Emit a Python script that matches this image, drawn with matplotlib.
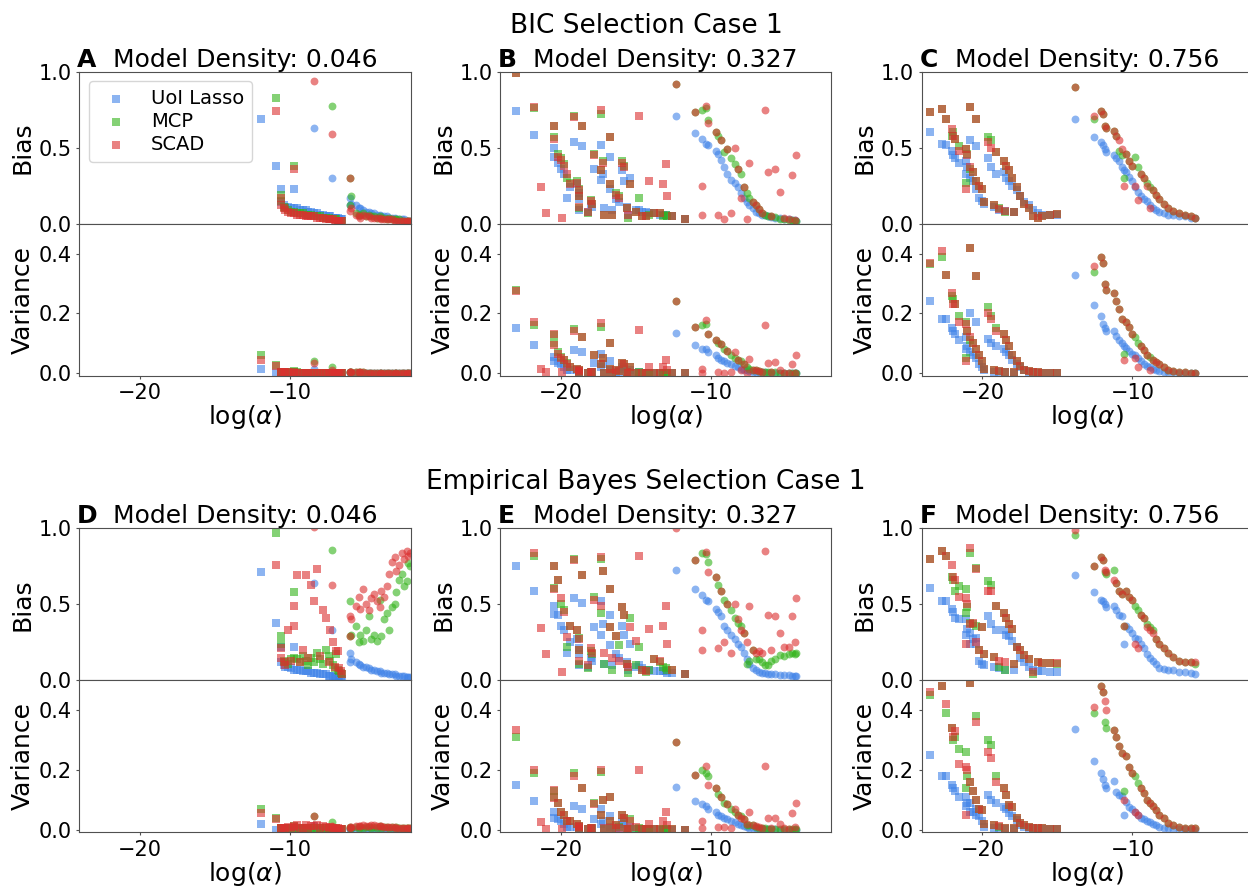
import matplotlib
matplotlib.use("Agg")
import matplotlib.pyplot as plt

nan = float("nan")

methods = ["UoI Lasso", "MCP", "SCAD"]
colors = ["#3f82e8", "#33b31a", "#db2f2f"]
densities = ["0.046", "0.327", "0.756"]
row_titles = ["BIC Selection Case 1", "Empirical Bayes Selection Case 1"]

# ---- density 0.046 (panels A, D) ----
col1_sq_x = [-11.9, -10.9, -10.6, -10.6, -10.4, -10.3, -10.1, -9.9, -9.7, -9.7,
             -9.5, -9.3, -9.1, -8.9, -8.8, -8.6, -8.4, -8.2, -8.0, -7.8,
             -7.6, -7.4, -7.3, -7.1, -7.0, -6.9, -6.8, -6.7, -6.6, -6.5]
col1_ci_x = [-8.4, -7.2, -6.0, -6.0, -5.9, -5.6, -5.4, -5.3, -5.1, -4.9,
             -4.7, -4.6, -4.4, -4.2, -4.0, -3.9, -3.7, -3.5, -3.4, -3.2,
             -3.0, -2.9, -2.7, -2.5, -2.4, -2.2, -2.1, -2.0]

A_uoi_sq_bias = [0.69, 0.38, 0.23, 0.14, 0.12, 0.11, 0.11, 0.10, 0.23, 0.10,
                 0.10, 0.09, 0.09, 0.09, 0.08, 0.08, 0.07, 0.07, 0.06, 0.06,
                 0.05, 0.05, 0.05, 0.04, 0.04, 0.04, 0.04, 0.03, 0.03, 0.03]
A_mcp_sq_bias = [1.10, 0.83, 0.19, 0.15, 0.11, 0.10, 0.09, 0.08, 0.38, 0.08,
                 0.07, 0.07, 0.07, 0.06, 0.06, 0.06, 0.05, 0.05, 0.05, 0.04,
                 0.04, 0.04, 0.03, 0.03, 0.03, 0.03, 0.02, 0.02, 0.02, 0.02]
A_scad_sq_bias = [1.05, 0.74, 0.17, 0.12, 0.10, 0.09, 0.08, 0.07, 0.36, 0.07,
                  0.06, 0.06, 0.06, 0.05, 0.05, 0.05, 0.05, 0.04, 0.04, 0.04,
                  0.03, 0.03, 0.03, 0.03, 0.02, 0.02, 0.02, 0.02, 0.02, 0.02]
A_uoi_sq_var = [0.015, 0.001, 0.003, 0.002, 0.002, 0.002, 0.002, 0.002, 0.003, 0.002,
                0.002, 0.002, 0.002, 0.002, 0.001, 0.001, 0.001, 0.001, 0.001, 0.001,
                0.001, 0.001, 0.001, 0.001, 0.001, 0.001, 0.001, 0.001, 0.001, 0.001]
A_mcp_sq_var = [0.060, 0.027, 0.006, 0.004, 0.003, 0.003, 0.003, 0.003, 0.007, 0.003,
                0.003, 0.002, 0.002, 0.002, 0.002, 0.002, 0.002, 0.002, 0.002, 0.002,
                0.001, 0.001, 0.001, 0.001, 0.001, 0.001, 0.001, 0.001, 0.001, 0.001]
A_scad_sq_var = [0.045, 0.025, 0.005, 0.004, 0.003, 0.003, 0.003, 0.002, 0.006, 0.002,
                 0.002, 0.002, 0.002, 0.002, 0.002, 0.002, 0.002, 0.002, 0.002, 0.002,
                 0.001, 0.001, 0.001, 0.001, 0.001, 0.001, 0.001, 0.001, 0.001, 0.001]
A_uoi_ci_bias = [0.63, 0.30, 0.17, 0.12, 0.13, 0.12, 0.10, 0.10, 0.09, 0.08,
                 0.08, 0.07, 0.07, 0.06, 0.06, 0.05, 0.05, 0.05, 0.04, 0.04,
                 0.04, 0.03, 0.03, 0.03, 0.03, 0.02, 0.02, 0.02]
A_mcp_ci_bias = [1.10, 0.775, 0.30, 0.12, 0.18, 0.07, 0.06, 0.06, 0.07, 0.05,
                 0.06, 0.05, 0.05, 0.04, 0.05, 0.04, 0.04, 0.03, 0.04, 0.03,
                 0.03, 0.03, 0.03, 0.02, 0.02, 0.02, 0.02, 0.02]
A_scad_ci_bias = [0.94, 0.59, 0.30, 0.085, 0.10, 0.06, 0.05, 0.04, 0.06, 0.05,
                  0.05, 0.04, 0.04, 0.04, 0.04, 0.03, 0.03, 0.03, 0.03, 0.03,
                  0.02, 0.02, 0.02, 0.02, 0.02, 0.02, 0.02, 0.02]
A_uoi_ci_var = [0.015, 0.004, 0.003, 0.002, 0.002, 0.002, 0.002, 0.002, 0.002, 0.002,
                0.001, 0.001, 0.001, 0.001, 0.001, 0.001, 0.001, 0.001, 0.001, 0.001,
                0.001, 0.001, 0.001, 0.001, 0.001, 0.001, 0.001, 0.001]
A_mcp_ci_var = [0.040, 0.022, 0.006, 0.004, 0.004, 0.003, 0.003, 0.003, 0.003, 0.002,
                0.002, 0.002, 0.002, 0.002, 0.002, 0.002, 0.002, 0.002, 0.001, 0.001,
                0.001, 0.001, 0.001, 0.001, 0.001, 0.001, 0.001, 0.001]
A_scad_ci_var = [0.035, 0.010, 0.006, 0.004, 0.004, 0.003, 0.003, 0.003, 0.003, 0.002,
                 0.002, 0.002, 0.002, 0.002, 0.002, 0.002, 0.002, 0.002, 0.001, 0.001,
                 0.001, 0.001, 0.001, 0.001, 0.001, 0.001, 0.001, 0.001]

D_uoi_sq_bias = [0.71, 0.38, 0.22, 0.12, 0.10, 0.09, 0.09, 0.08, 0.22, 0.07,
                 0.07, 0.07, 0.06, 0.06, 0.06, 0.05, 0.05, 0.05, 0.04, 0.04,
                 0.04, 0.03, 0.03, 0.03, 0.02, 0.02, 0.02, 0.02, 0.01, 0.01]
D_mcp_sq_bias = [1.10, 0.97, 0.29, 0.24, 0.13, 0.12, 0.11, 0.14, 0.58, 0.15,
                 0.14, 0.12, 0.16, 0.13, 0.10, 0.15, 0.12, 0.18, 0.14, 0.11,
                 0.20, 0.16, 0.13, 0.10, 0.08, 0.17, 0.07, 0.06, 0.05, 0.04]
D_scad_sq_bias = [1.05, 0.76, 0.21, 0.15, 0.12, 0.10, 0.33, 0.13, 0.36, 0.49,
                  0.69, 0.12, 0.20, 0.69, 0.15, 0.63, 0.52, 0.73, 0.16, 0.46,
                  0.41, 0.12, 0.33, 0.25, 0.09, 0.19, 0.19, 0.08, 0.06, 0.04]
D_uoi_sq_var = [0.020, 0.001, 0.003, 0.002, 0.002, 0.002, 0.002, 0.002, 0.003, 0.002,
                0.002, 0.002, 0.002, 0.002, 0.001, 0.001, 0.001, 0.001, 0.001, 0.001,
                0.001, 0.001, 0.001, 0.001, 0.001, 0.001, 0.001, 0.001, 0.001, 0.001]
D_mcp_sq_var = [0.070, 0.040, 0.008, 0.007, 0.006, 0.006, 0.006, 0.006, 0.012, 0.006,
                0.006, 0.005, 0.006, 0.005, 0.005, 0.006, 0.005, 0.006, 0.005, 0.005,
                0.006, 0.005, 0.005, 0.004, 0.004, 0.005, 0.004, 0.004, 0.003, 0.003]
D_scad_sq_var = [0.056, 0.035, 0.007, 0.006, 0.006, 0.005, 0.010, 0.006, 0.010, 0.012,
                 0.015, 0.005, 0.008, 0.015, 0.006, 0.014, 0.012, 0.016, 0.006, 0.012,
                 0.011, 0.005, 0.010, 0.008, 0.004, 0.007, 0.007, 0.004, 0.003, 0.003]
D_uoi_ci_bias = [0.64, 0.33, 0.18, 0.12, 0.14, 0.12, 0.11, 0.10, 0.09, 0.09,
                 0.08, 0.07, 0.07, 0.06, 0.06, 0.05, 0.05, 0.05, 0.04, 0.04,
                 0.04, 0.03, 0.03, 0.03, 0.03, 0.02, 0.02, 0.02]
D_mcp_ci_bias = [1.10, 0.86, 0.52, 0.29, 0.30, 0.36, 0.25, 0.30, 0.26, 0.33,
                 0.42, 0.27, 0.30, 0.26, 0.53, 0.29, 0.40, 0.44, 0.33, 0.48,
                 0.50, 0.58, 0.66, 0.70, 0.62, 0.65, 0.77, 0.75]
D_scad_ci_bias = [1.01, 0.63, 0.42, 0.29, 0.40, 0.49, 0.55, 0.47, 0.60, 0.50,
                  0.46, 0.54, 0.57, 0.52, 0.48, 0.59, 0.55, 0.62, 0.70, 0.78,
                  0.81, 0.72, 0.76, 0.84, 0.80, 0.85, 0.82, 0.84]
D_uoi_ci_var = [0.015, 0.004, 0.003, 0.003, 0.002, 0.002, 0.002, 0.002, 0.002, 0.002,
                0.001, 0.001, 0.001, 0.001, 0.001, 0.001, 0.001, 0.001, 0.001, 0.001,
                0.001, 0.001, 0.001, 0.001, 0.001, 0.001, 0.001, 0.001]
D_mcp_ci_var = [0.045, 0.028, 0.010, 0.008, 0.008, 0.010, 0.008, 0.009, 0.008, 0.009,
                0.011, 0.008, 0.009, 0.008, 0.012, 0.008, 0.009, 0.010, 0.008, 0.009,
                0.008, 0.009, 0.008, 0.008, 0.007, 0.007, 0.007, 0.006]
D_scad_ci_var = [0.045, 0.012, 0.010, 0.008, 0.010, 0.012, 0.014, 0.013, 0.016, 0.014,
                 0.013, 0.015, 0.016, 0.014, 0.013, 0.012, 0.011, 0.010, 0.010, 0.010,
                 0.009, 0.008, 0.008, 0.008, 0.007, 0.007, 0.006, 0.006]

# ---- density 0.327 (panels B, E) ----
col2_sq_x = [-23.0, -21.8, -21.3, -21.0, -20.45, -20.45, -20.2, -20.0, -19.8, -19.9,
             -19.55, -19.4, -19.1, -18.9, -18.75, -18.6, -18.8, -18.75, -18.2, -18.0,
             -17.9, -17.8, -17.3, -17.3, -17.2, -17.1, -16.7, -16.7, -16.6, -16.3,
             -16.1, -15.9, -15.8, -15.4, -15.6, -15.5, -14.8, -15.0, -14.6, -14.3,
             -14.1, -13.8, -13.4, -13.2, -13.0, -12.9, -12.6, -11.7]
col2_ci_x = [-12.3, -11.04, -10.56, -10.3, -10.56, -10.2, -9.67, -9.5, -9.33, -9.1,
             -8.9, -8.67, -8.4, -8.2, -8.0, -7.8, -7.6, -7.45, -7.2, -7.0,
             -6.8, -6.6, -6.4, -6.2, -6.0, -5.7, -5.4, -5.1, -4.8, -4.55,
             -4.3, -4.4]

B_uoi_sq_bias = [0.74, 0.585, nan, nan, 0.50, 0.44, 0.40, 0.36, 0.33, nan,
                 0.17, 0.24, 0.535, 0.26, 0.20, 0.51, 0.16, 0.09, 0.08, 0.13,
                 0.11, 0.36, 0.515, 0.29, 0.33, 0.10, 0.44, 0.23, 0.09, 0.16,
                 0.14, 0.35, 0.28, 0.30, 0.11, 0.06, 0.09, 0.09, 0.08, 0.08,
                 0.07, 0.07, 0.06, 0.06, 0.06, 0.05, 0.05, 0.03]
B_mcp_sq_bias = [0.99, 0.76, nan, nan, 0.645, 0.57, 0.46, 0.43, 0.39, nan,
                 0.30, 0.27, 0.71, 0.28, 0.23, 0.64, 0.18, 0.10, 0.07, 0.155,
                 0.13, 0.46, 0.72, 0.35, 0.41, 0.06, 0.57, 0.26, 0.06, 0.20,
                 0.18, 0.41, 0.38, 0.26, 0.105, 0.04, 0.17, 0.08, 0.05, 0.05,
                 0.06, 0.07, 0.07, 0.05, 0.06, 0.05, 0.05, 0.03]
B_scad_sq_bias = [0.99, 0.77, 0.24, 0.07, 0.645, 0.56, 0.44, 0.42, 0.38, 0.04,
                  0.33, 0.26, 0.70, 0.27, 0.22, 0.64, 0.18, 0.11, 0.08, 0.15,
                  0.13, 0.45, 0.75, 0.35, 0.40, 0.06, 0.57, 0.26, 0.06, 0.19,
                  0.17, 0.40, 0.37, 0.26, 0.10, 0.06, 0.71, 0.08, 0.05, 0.05,
                  0.28, 0.07, 0.07, 0.26, 0.39, 0.18, 0.05, 0.03]
B_uoi_sq_var = [0.15, 0.093, nan, nan, 0.055, 0.04, 0.035, 0.03, 0.02, nan,
                0.01, 0.01, 0.077, 0.01, 0.005, 0.07, 0.004, 0.002, 0.002, 0.003,
                0.003, 0.034, 0.066, 0.02, 0.03, 0.002, 0.04, 0.01, 0.002, 0.005,
                0.004, 0.02, 0.015, 0.01, 0.003, 0.001, 0.003, 0.002, 0.002, 0.002,
                0.002, 0.002, 0.001, 0.001, 0.001, 0.001, 0.001, 0.001]
B_mcp_sq_var = [0.28, 0.16, nan, nan, 0.127, 0.10, 0.07, 0.055, 0.045, nan,
                0.035, 0.02, 0.149, 0.015, 0.01, 0.12, 0.008, 0.003, 0.002, 0.004,
                0.003, 0.062, 0.154, 0.03, 0.05, 0.002, 0.10, 0.015, 0.002, 0.01,
                0.008, 0.035, 0.03, 0.02, 0.003, 0.001, 0.005, 0.002, 0.001, 0.001,
                0.002, 0.002, 0.002, 0.001, 0.001, 0.001, 0.001, 0.001]
B_scad_sq_var = [0.275, 0.17, 0.016, 0.004, 0.13, 0.095, 0.065, 0.05, 0.045, 0.003,
                 0.03, 0.02, 0.14, 0.015, 0.01, 0.12, 0.008, 0.003, 0.002, 0.004,
                 0.003, 0.06, 0.168, 0.03, 0.05, 0.002, 0.10, 0.015, 0.002, 0.01,
                 0.008, 0.035, 0.03, 0.02, 0.003, 0.001, 0.145, 0.002, 0.001, 0.001,
                 0.02, 0.002, 0.002, 0.02, 0.045, 0.012, 0.001, 0.001]
B_uoi_ci_bias = [0.71, 0.595, 0.554, 0.525, nan, 0.52, 0.48, 0.46, 0.42, 0.37,
                 0.33, 0.29, 0.27, 0.24, 0.20, 0.17, 0.14, 0.12, 0.10, 0.08,
                 0.07, 0.06, 0.055, 0.05, 0.045, 0.04, 0.035, 0.03, 0.03, 0.025,
                 0.02, 0.025]
B_mcp_ci_bias = [0.92, 0.735, 0.746, 0.76, nan, 0.68, 0.60, 0.58, 0.55, 0.47,
                 0.49, 0.43, 0.39, 0.36, 0.33, 0.24, 0.20, 0.17, 0.14, 0.12,
                 0.095, 0.07, 0.06, 0.05, 0.05, 0.045, 0.03, 0.03, 0.025, 0.025,
                 0.02, 0.02]
B_scad_ci_bias = [0.92, 0.735, 0.25, 0.775, 0.057, 0.66, 0.60, 0.06, 0.55, 0.03,
                  0.49, 0.07, 0.50, 0.36, 0.17, 0.24, 0.03, 0.40, 0.14, 0.12,
                  0.095, 0.07, 0.745, 0.34, 0.05, 0.36, 0.21, 0.04, 0.03, 0.32,
                  0.45, 0.025]
B_uoi_ci_var = [0.136, 0.093, 0.082, 0.08, nan, 0.07, 0.06, 0.05, 0.045, 0.04,
                0.035, 0.03, 0.025, 0.02, 0.015, 0.012, 0.01, 0.008, 0.006, 0.005,
                0.004, 0.003, 0.003, 0.002, 0.002, 0.002, 0.001, 0.001, 0.001, 0.001,
                0.001, 0.001]
B_mcp_ci_var = [0.243, 0.154, 0.16, 0.165, nan, 0.13, 0.11, 0.10, 0.097, 0.08,
                0.075, 0.06, 0.05, 0.045, 0.04, 0.03, 0.02, 0.015, 0.012, 0.01,
                0.008, 0.006, 0.005, 0.004, 0.003, 0.003, 0.002, 0.002, 0.001, 0.001,
                0.001, 0.001]
B_scad_ci_var = [0.243, 0.154, 0.016, 0.177, 0.0, 0.13, 0.11, 0.005, 0.097, 0.002,
                 0.075, 0.003, 0.07, 0.045, 0.01, 0.03, 0.001, 0.049, 0.012, 0.01,
                 0.008, 0.006, 0.162, 0.034, 0.003, 0.038, 0.01, 0.002, 0.001, 0.032,
                 0.062, 0.001]

E_uoi_sq_bias = [0.75, 0.59, nan, nan, 0.49, 0.435, 0.43, 0.36, 0.33, nan,
                 0.18, 0.25, 0.54, 0.27, 0.21, 0.51, 0.17, 0.10, 0.09, 0.15,
                 0.13, 0.35, 0.52, 0.30, 0.37, 0.11, 0.43, 0.23, 0.10, 0.17,
                 0.15, 0.36, 0.30, 0.24, 0.12, 0.07, 0.10, 0.09, 0.08, 0.07,
                 0.07, 0.06, 0.06, 0.06, 0.06, 0.05, 0.05, 0.04]
E_mcp_sq_bias = [1.10, 0.82, nan, nan, 0.75, 0.61, 0.66, 0.50, 0.46, nan,
                 0.22, 0.36, 0.80, 0.33, 0.275, 0.69, 0.20, 0.11, 0.08, 0.19,
                 0.17, 0.545, 0.80, 0.44, 0.72, 0.11, 0.60, 0.35, 0.065, 0.29,
                 0.23, 0.48, 0.43, 0.41, 0.11, 0.045, 0.22, 0.10, 0.066, 0.055,
                 0.07, 0.14, 0.12, 0.09, 0.08, 0.07, 0.066, 0.04]
E_scad_sq_bias = [1.10, 0.835, 0.345, 0.17, 0.75, 0.60, 0.66, 0.54, 0.45, 0.055,
                  0.285, 0.36, 0.79, 0.33, 0.27, 0.69, 0.20, 0.13, 0.10, 0.21,
                  0.18, 0.53, 0.81, 0.49, 0.72, 0.18, 0.60, 0.35, 0.15, 0.29,
                  0.13, 0.48, 0.43, 0.35, 0.11, 0.09, 0.82, 0.26, 0.066, 0.06,
                  0.34, 0.14, 0.13, 0.36, 0.49, 0.24, 0.066, 0.04]
E_uoi_sq_var = [0.15, 0.095, nan, nan, 0.06, 0.04, 0.035, 0.03, 0.02, nan,
                0.01, 0.01, 0.08, 0.01, 0.006, 0.07, 0.004, 0.002, 0.002, 0.004,
                0.003, 0.035, 0.07, 0.02, 0.03, 0.003, 0.045, 0.01, 0.002, 0.006,
                0.005, 0.025, 0.02, 0.01, 0.003, 0.002, 0.003, 0.002, 0.002, 0.002,
                0.002, 0.002, 0.001, 0.001, 0.001, 0.001, 0.001, 0.001]
E_mcp_sq_var = [0.31, 0.19, nan, nan, 0.13, 0.11, 0.09, 0.06, 0.05, nan,
                0.03, 0.03, 0.19, 0.02, 0.012, 0.14, 0.01, 0.004, 0.003, 0.006,
                0.005, 0.09, 0.195, 0.05, 0.10, 0.004, 0.11, 0.03, 0.002, 0.015,
                0.01, 0.05, 0.04, 0.035, 0.004, 0.002, 0.006, 0.003, 0.002, 0.002,
                0.002, 0.004, 0.003, 0.002, 0.002, 0.002, 0.002, 0.001]
E_scad_sq_var = [0.335, 0.20, 0.028, 0.002, 0.135, 0.105, 0.09, 0.06, 0.05, 0.003,
                 0.03, 0.03, 0.18, 0.02, 0.012, 0.14, 0.01, 0.004, 0.003, 0.006,
                 0.005, 0.085, 0.20, 0.05, 0.10, 0.006, 0.11, 0.03, 0.005, 0.015,
                 0.006, 0.05, 0.04, 0.03, 0.004, 0.003, 0.20, 0.01, 0.002, 0.002,
                 0.02, 0.004, 0.003, 0.03, 0.06, 0.015, 0.002, 0.001]
E_uoi_ci_bias = [0.725, 0.60, 0.56, 0.53, nan, 0.52, 0.47, 0.45, 0.42, 0.36,
                 0.33, 0.30, 0.27, 0.24, 0.22, 0.18, 0.14, 0.11, 0.08, 0.07,
                 0.055, 0.05, 0.045, 0.044, 0.042, 0.04, 0.038, 0.035, 0.033, 0.03,
                 0.026, 0.028]
E_mcp_ci_bias = [1.10, 0.79, 0.835, 0.83, nan, 0.78, 0.68, 0.63, 0.59, 0.53,
                 0.505, 0.46, 0.41, 0.38, 0.36, 0.31, 0.11, 0.13, 0.20, 0.14,
                 0.14, 0.12, 0.10, 0.10, 0.13, 0.14, 0.165, 0.16, 0.175, 0.18,
                 0.18, 0.17]
E_scad_ci_bias = [1.00, 0.79, 0.33, 0.845, 0.20, 0.71, 0.68, 0.21, 0.59, 0.25,
                  0.505, 0.18, 0.50, 0.40, 0.33, 0.31, 0.25, 0.49, 0.20, 0.18,
                  0.19, 0.18, 0.85, 0.43, 0.20, 0.42, 0.31, 0.22, 0.22, 0.42,
                  0.54, 0.25]
E_uoi_ci_var = [0.145, 0.098, 0.085, 0.08, nan, 0.07, 0.06, 0.05, 0.045, 0.04,
                0.035, 0.03, 0.025, 0.02, 0.015, 0.012, 0.01, 0.008, 0.006, 0.005,
                0.004, 0.003, 0.003, 0.002, 0.002, 0.002, 0.001, 0.001, 0.001, 0.001,
                0.001, 0.001]
E_mcp_ci_var = [0.293, 0.184, 0.20, 0.19, nan, 0.18, 0.14, 0.12, 0.11, 0.09,
                0.085, 0.07, 0.06, 0.05, 0.045, 0.035, 0.015, 0.015, 0.015, 0.01,
                0.008, 0.006, 0.005, 0.004, 0.004, 0.004, 0.003, 0.003, 0.002, 0.002,
                0.002, 0.002]
E_scad_ci_var = [0.293, 0.184, 0.03, 0.215, 0.005, 0.15, 0.14, 0.01, 0.11, 0.01,
                 0.085, 0.008, 0.07, 0.05, 0.04, 0.035, 0.02, 0.06, 0.015, 0.012,
                 0.01, 0.008, 0.215, 0.04, 0.006, 0.04, 0.02, 0.005, 0.004, 0.055,
                 0.09, 0.01]

# ---- density 0.756 (panels C, F) ----
col3_sq_x = [-23.5, -22.7, -22.45, -22.0, -21.95, -21.8, -21.55, -21.1, -21.0, -20.8,
             -20.45, -21.1, -20.8, -20.6, -20.4, -20.2, -20.0, -19.9, -19.65, -19.4,
             -19.2, -19.1, -18.9, -18.55, -18.4, -18.2, -18.0, -18.5, -17.9, -17.7,
             -17.5, -17.2, -16.9, -16.6, -16.3, -16.0, -15.5, -15.0]
col3_ci_x = [-13.8, -12.55, -12.07, -11.95, -11.8, -11.75, -11.2, -11.1, -10.9, -10.7,
             -10.55, -10.45, -10.2, -10.0, -9.8, -9.6, -9.4, -9.2, -9.0, -8.8,
             -8.6, -8.4, -8.2, -7.9, -7.6, -7.3, -6.9, -6.5, -6.1, -5.8]

C_uoi_sq_bias = [0.60, 0.525, 0.52, 0.48, 0.45, 0.43, 0.40, 0.41, 0.37, 0.55,
                 0.51, 0.33, 0.30, 0.28, 0.23, 0.17, 0.15, 0.13, 0.43, 0.37,
                 0.11, 0.33, 0.09, 0.34, 0.30, 0.28, 0.25, 0.085, 0.075, 0.22,
                 0.18, 0.14, 0.12, 0.09, 0.07, 0.06, 0.06, 0.06]
C_mcp_sq_bias = [0.735, 0.757, 0.69, 0.58, 0.60, 0.56, 0.51, 0.49, 0.46, 0.77,
                 0.69, 0.27, 0.36, 0.34, 0.28, 0.25, 0.23, 0.14, 0.57, 0.55,
                 0.12, 0.47, 0.10, 0.415, 0.38, 0.35, 0.30, 0.08, 0.075, 0.24,
                 0.18, 0.13, 0.10, 0.05, 0.04, 0.05, 0.06, 0.067]
C_scad_sq_bias = [0.735, 0.757, 0.69, 0.62, 0.58, 0.56, 0.48, 0.49, 0.45, 0.77,
                  0.69, 0.23, 0.37, 0.34, 0.28, 0.25, 0.23, 0.14, 0.54, 0.50,
                  0.12, 0.47, 0.095, 0.415, 0.38, 0.35, 0.30, 0.085, 0.075, 0.24,
                  0.18, 0.13, 0.10, 0.05, 0.04, 0.05, 0.06, 0.067]
C_uoi_sq_var = [0.243, 0.18, 0.18, 0.15, 0.14, 0.13, 0.11, 0.12, 0.09, 0.20,
                0.17, 0.08, 0.07, 0.06, 0.05, 0.03, 0.02, 0.01, 0.115, 0.10,
                0.005, 0.09, 0.004, 0.08, 0.07, 0.06, 0.045, 0.003, 0.002, 0.03,
                0.02, 0.01, 0.006, 0.004, 0.002, 0.002, 0.001, 0.001]
C_mcp_sq_var = [0.365, 0.39, 0.33, 0.26, 0.25, 0.23, 0.19, 0.17, 0.14, 0.42,
                0.325, 0.05, 0.11, 0.10, 0.08, 0.06, 0.04, 0.015, 0.22, 0.19,
                0.01, 0.15, 0.008, 0.13, 0.11, 0.09, 0.06, 0.005, 0.004, 0.04,
                0.025, 0.012, 0.008, 0.004, 0.003, 0.002, 0.002, 0.001]
C_scad_sq_var = [0.37, 0.41, 0.33, 0.27, 0.23, 0.23, 0.17, 0.165, 0.14, 0.42,
                 0.325, 0.04, 0.12, 0.10, 0.08, 0.06, 0.04, 0.015, 0.20, 0.18,
                 0.01, 0.14, 0.008, 0.13, 0.11, 0.09, 0.06, 0.005, 0.004, 0.04,
                 0.025, 0.012, 0.008, 0.004, 0.003, 0.002, 0.002, 0.001]
C_uoi_ci_bias = [0.69, 0.57, 0.535, 0.515, 0.49, 0.47, 0.45, 0.43, 0.41, 0.37,
                 0.35, 0.34, 0.31, 0.28, 0.24, 0.21, 0.18, 0.16, 0.15, 0.12,
                 0.10, 0.09, 0.08, 0.07, 0.06, 0.06, 0.05, 0.05, 0.04, 0.04]
C_mcp_ci_bias = [0.90, 0.69, 0.74, 0.72, 0.645, 0.63, 0.61, 0.58, 0.48, 0.45,
                 0.30, 0.46, 0.415, 0.38, 0.44, 0.37, 0.33, 0.30, 0.27, 0.24,
                 0.22, 0.19, 0.16, 0.13, 0.105, 0.085, 0.07, 0.06, 0.05, 0.04]
C_scad_ci_bias = [0.90, 0.71, 0.74, 0.72, 0.645, 0.63, 0.61, 0.58, 0.55, 0.49,
                  0.245, 0.46, 0.415, 0.38, 0.25, 0.155, 0.33, 0.30, 0.25, 0.105,
                  0.22, 0.19, 0.16, 0.13, 0.105, 0.085, 0.07, 0.06, 0.05, 0.04]
C_uoi_ci_var = [0.33, 0.227, 0.19, 0.165, 0.15, 0.14, 0.14, 0.125, 0.11, 0.10,
                0.09, 0.085, 0.075, 0.065, 0.06, 0.05, 0.04, 0.03, 0.025, 0.02,
                0.015, 0.01, 0.008, 0.005, 0.004, 0.003, 0.002, 0.002, 0.001, 0.001]
C_mcp_ci_var = [0.60, 0.338, 0.39, 0.37, 0.30, 0.28, 0.27, 0.24, 0.215, 0.18,
                0.065, 0.17, 0.155, 0.13, 0.12, 0.10, 0.09, 0.077, 0.06, 0.055,
                0.045, 0.038, 0.03, 0.02, 0.012, 0.008, 0.005, 0.003, 0.002, 0.001]
C_scad_ci_var = [0.60, 0.357, 0.39, 0.37, 0.30, 0.28, 0.27, 0.24, 0.215, 0.18,
                 0.043, 0.17, 0.155, 0.13, 0.05, 0.02, 0.09, 0.077, 0.06, 0.01,
                 0.045, 0.038, 0.03, 0.02, 0.012, 0.008, 0.005, 0.003, 0.002, 0.001]

F_uoi_sq_bias = [0.61, 0.52, 0.52, 0.47, 0.45, 0.41, 0.40, 0.40, 0.34, 0.31,
                 0.28, 0.30, 0.24, 0.27, 0.24, 0.13, 0.11, 0.10, 0.42, 0.37,
                 0.09, 0.33, 0.08, 0.33, 0.30, 0.29, 0.26, 0.066, 0.07, 0.22,
                 0.15, 0.12, 0.09, 0.066, 0.06, 0.06, 0.055, 0.055]
F_mcp_sq_bias = [0.80, 0.85, 0.82, 0.68, 0.66, 0.59, 0.62, 0.60, 0.48, 0.84,
                 0.74, 0.44, 0.38, 0.37, 0.36, 0.20, 0.35, 0.176, 0.65, 0.63,
                 0.154, 0.49, 0.088, 0.44, 0.41, 0.37, 0.34, 0.066, 0.11, 0.22,
                 0.20, 0.165, 0.14, 0.044, 0.12, 0.115, 0.115, 0.11]
F_scad_sq_bias = [0.80, 0.85, 0.82, 0.76, 0.68, 0.66, 0.55, 0.54, 0.50, 0.87,
                  0.73, 0.24, 0.37, 0.38, 0.25, 0.20, 0.35, 0.176, 0.59, 0.59,
                  0.154, 0.49, 0.13, 0.44, 0.41, 0.37, 0.34, 0.12, 0.11, 0.22,
                  0.20, 0.165, 0.14, 0.055, 0.12, 0.115, 0.115, 0.115]
F_uoi_sq_var = [0.25, 0.18, 0.18, 0.15, 0.14, 0.13, 0.11, 0.11, 0.09, 0.09,
                0.07, 0.08, 0.06, 0.06, 0.05, 0.045, 0.03, 0.01, 0.117, 0.10,
                0.008, 0.09, 0.005, 0.078, 0.07, 0.056, 0.045, 0.004, 0.004, 0.034,
                0.017, 0.01, 0.008, 0.005, 0.004, 0.003, 0.002, 0.002]
F_mcp_sq_var = [0.45, 0.48, 0.39, 0.34, 0.30, 0.31, 0.27, 0.26, 0.18, 0.49,
                0.38, 0.14, 0.16, 0.13, 0.10, 0.07, 0.067, 0.02, 0.30, 0.285,
                0.015, 0.18, 0.01, 0.14, 0.117, 0.084, 0.078, 0.008, 0.006, 0.04,
                0.022, 0.015, 0.01, 0.006, 0.006, 0.005, 0.004, 0.003]
F_scad_sq_var = [0.46, 0.48, 0.42, 0.34, 0.31, 0.33, 0.22, 0.21, 0.20, 0.49,
                 0.36, 0.05, 0.16, 0.13, 0.10, 0.07, 0.067, 0.02, 0.26, 0.24,
                 0.015, 0.16, 0.012, 0.14, 0.117, 0.084, 0.078, 0.008, 0.006, 0.04,
                 0.022, 0.015, 0.01, 0.006, 0.006, 0.005, 0.004, 0.003]
F_uoi_ci_bias = [0.69, 0.58, 0.53, 0.52, 0.50, 0.48, 0.49, 0.46, 0.43, 0.42,
                 0.237, 0.36, 0.34, 0.31, 0.28, 0.27, 0.24, 0.21, 0.176, 0.15,
                 0.13, 0.11, 0.08, 0.077, 0.066, 0.066, 0.055, 0.055, 0.05, 0.04]
F_mcp_ci_bias = [0.956, 0.75, 0.81, 0.79, 0.71, 0.70, 0.725, 0.64, 0.59, 0.57,
                 0.36, 0.59, 0.55, 0.53, 0.49, 0.46, 0.43, 0.41, 0.37, 0.35,
                 0.33, 0.27, 0.24, 0.21, 0.18, 0.154, 0.13, 0.12, 0.12, 0.11]
F_scad_ci_bias = [0.99, 0.75, 0.81, 0.79, 0.725, 0.71, 0.66, 0.64, 0.59, 0.57,
                  0.36, 0.59, 0.55, 0.53, 0.237, 0.215, 0.43, 0.41, 0.35, 0.33,
                  0.31, 0.27, 0.24, 0.21, 0.18, 0.154, 0.13, 0.12, 0.12, 0.12]
F_uoi_ci_var = [0.337, 0.23, 0.19, 0.17, 0.15, 0.14, 0.164, 0.128, 0.115, 0.112,
                0.05, 0.092, 0.078, 0.07, 0.061, 0.05, 0.04, 0.035, 0.03, 0.025,
                0.02, 0.015, 0.011, 0.008, 0.006, 0.004, 0.003, 0.002, 0.002, 0.001]
F_mcp_ci_var = [0.62, 0.39, 0.48, 0.46, 0.36, 0.34, 0.335, 0.31, 0.28, 0.257,
                0.13, 0.246, 0.21, 0.19, 0.18, 0.156, 0.14, 0.123, 0.10, 0.09,
                0.08, 0.067, 0.05, 0.04, 0.022, 0.015, 0.011, 0.008, 0.006, 0.005]
F_scad_ci_var = [0.65, 0.41, 0.48, 0.46, 0.43, 0.40, 0.335, 0.31, 0.28, 0.257,
                 0.10, 0.246, 0.21, 0.19, 0.06, 0.05, 0.14, 0.123, 0.10, 0.09,
                 0.08, 0.067, 0.05, 0.04, 0.022, 0.015, 0.011, 0.008, 0.006, 0.005]

panels = [
    ("A", 0, 0, col1_sq_x, col1_ci_x,
     [(A_uoi_sq_bias, A_uoi_sq_var), (A_mcp_sq_bias, A_mcp_sq_var), (A_scad_sq_bias, A_scad_sq_var)],
     [(A_uoi_ci_bias, A_uoi_ci_var), (A_mcp_ci_bias, A_mcp_ci_var), (A_scad_ci_bias, A_scad_ci_var)]),
    ("B", 0, 1, col2_sq_x, col2_ci_x,
     [(B_uoi_sq_bias, B_uoi_sq_var), (B_mcp_sq_bias, B_mcp_sq_var), (B_scad_sq_bias, B_scad_sq_var)],
     [(B_uoi_ci_bias, B_uoi_ci_var), (B_mcp_ci_bias, B_mcp_ci_var), (B_scad_ci_bias, B_scad_ci_var)]),
    ("C", 0, 2, col3_sq_x, col3_ci_x,
     [(C_uoi_sq_bias, C_uoi_sq_var), (C_mcp_sq_bias, C_mcp_sq_var), (C_scad_sq_bias, C_scad_sq_var)],
     [(C_uoi_ci_bias, C_uoi_ci_var), (C_mcp_ci_bias, C_mcp_ci_var), (C_scad_ci_bias, C_scad_ci_var)]),
    ("D", 1, 0, col1_sq_x, col1_ci_x,
     [(D_uoi_sq_bias, D_uoi_sq_var), (D_mcp_sq_bias, D_mcp_sq_var), (D_scad_sq_bias, D_scad_sq_var)],
     [(D_uoi_ci_bias, D_uoi_ci_var), (D_mcp_ci_bias, D_mcp_ci_var), (D_scad_ci_bias, D_scad_ci_var)]),
    ("E", 1, 1, col2_sq_x, col2_ci_x,
     [(E_uoi_sq_bias, E_uoi_sq_var), (E_mcp_sq_bias, E_mcp_sq_var), (E_scad_sq_bias, E_scad_sq_var)],
     [(E_uoi_ci_bias, E_uoi_ci_var), (E_mcp_ci_bias, E_mcp_ci_var), (E_scad_ci_bias, E_scad_ci_var)]),
    ("F", 1, 2, col3_sq_x, col3_ci_x,
     [(F_uoi_sq_bias, F_uoi_sq_var), (F_mcp_sq_bias, F_mcp_sq_var), (F_scad_sq_bias, F_scad_sq_var)],
     [(F_uoi_ci_bias, F_uoi_ci_var), (F_mcp_ci_bias, F_mcp_ci_var), (F_scad_ci_bias, F_scad_ci_var)]),
]

W, H = 1248, 888
fig = plt.figure(figsize=(W / 100, H / 100), dpi=100)

col_left = [79.3, 500.0, 921.7]
col_width = 331.4
row_top = [71.7, 528.3]
half_h = 152.0
spine_col = "#505050"


def frac(left, top, width, height):
    return [left / W, 1 - (top + height) / H, width / W, height / H]


def style(ax):
    for sp in ax.spines.values():
        sp.set_color(spine_col)
    ax.tick_params(labelsize=15, length=2.5, width=0.8, color=spine_col, pad=3)


for letter, r, c, sq_x, ci_x, sq_vals, ci_vals in panels:
    ax_b = fig.add_axes(frac(col_left[c], row_top[r], col_width, half_h))
    ax_v = fig.add_axes(frac(col_left[c], row_top[r] + half_h, col_width, half_h))

    for i in range(3):
        ax_b.scatter(sq_x, sq_vals[i][0], marker="s", s=30, color=colors[i],
                     alpha=0.6, linewidths=0, label=methods[i])
        ax_b.scatter(ci_x, ci_vals[i][0], marker="o", s=32, color=colors[i],
                     alpha=0.6, linewidths=0)
        ax_v.scatter(sq_x, sq_vals[i][1], marker="s", s=30, color=colors[i],
                     alpha=0.6, linewidths=0)
        ax_v.scatter(ci_x, ci_vals[i][1], marker="o", s=32, color=colors[i],
                     alpha=0.6, linewidths=0)

    ax_b.set_xlim(-24.05, -1.95)
    ax_v.set_xlim(-24.05, -1.95)
    ax_b.set_ylim(0, 1.0)
    ax_v.set_ylim(-0.008, 0.5)
    ax_b.set_xticks([])
    ax_b.set_yticks([0, 0.5, 1.0])
    ax_b.set_yticklabels(["0.0", "0.5", "1.0"])
    ax_v.set_xticks([-20, -10])
    ax_v.set_yticks([0, 0.2, 0.4])
    ax_v.set_yticklabels(["0.0", "0.2", "0.4"])
    style(ax_b)
    style(ax_v)

    ax_b.set_ylabel("Bias", fontsize=18)
    ax_v.set_ylabel("Variance", fontsize=18)
    ax_b.yaxis.set_label_coords(-0.135, 0.5)
    ax_v.yaxis.set_label_coords(-0.135, 0.5)
    ax_v.set_xlabel(r"log($\alpha$)", fontsize=18, labelpad=0)

    ax_b.set_title("Model Density: " + densities[c], fontsize=18, pad=3.5)
    ax_b.text(-0.007, 1.033, letter, transform=ax_b.transAxes, fontsize=18,
              fontweight="bold", ha="left", va="baseline")

    if letter == "A":
        ax_b.legend(loc="upper left", fontsize=14, labelspacing=0.2,
                    scatterpoints=1)

fig.text(646 / W, 1 - 33.3 / H, row_titles[0], ha="center", va="baseline",
         fontsize=19)
fig.text(646 / W, 1 - 489.3 / H, row_titles[1], ha="center", va="baseline",
         fontsize=19)

fig.savefig("out.png", dpi=100)
plt.close(fig)
